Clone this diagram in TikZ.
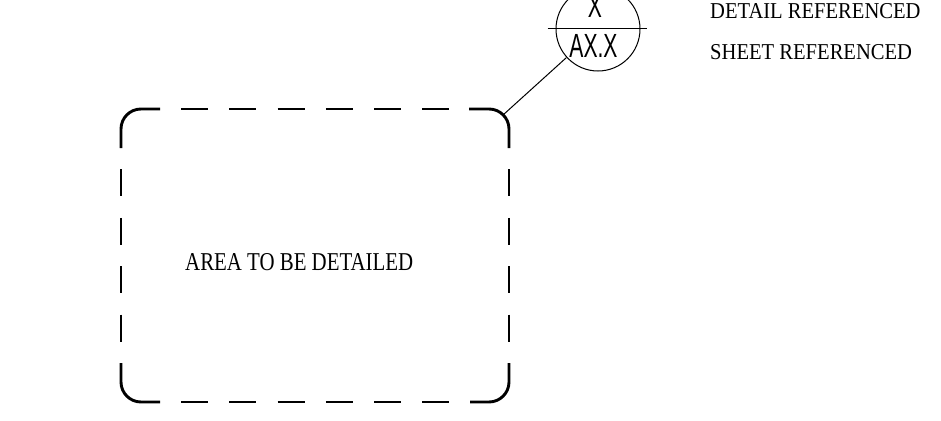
\documentclass[tikz,border=0pt]{standalone}
\usepackage{fontspec}
\usepackage{graphicx}
\setmainfont{Liberation Serif}
\newfontfamily\narrowsans{Liberation Sans}
\tikzset{
  heavy/.style={line width=2.9pt, line cap=butt},
  heavydash/.style={heavy, dash pattern=on 27pt off 21.2pt, dash phase=27pt},
  thin/.style={line width=1pt},
  serif/.style={anchor=base west, inner sep=0pt, font=\fontsize{22.7}{24}\selectfont},
  tag/.style={anchor=base, inner sep=0pt, font=\narrowsans\fontsize{33.5}{36}\selectfont},
}
\begin{document}
\begin{tikzpicture}[x=1pt, y=-1pt]
\useasboundingbox (0,0) rectangle (941,420);
% corners of the detailed area
\draw[heavy, rounded corners=20pt] (121,148) -- (121,109) -- (160,109);
\draw[heavy, rounded corners=20pt] (469,109) -- (509,109) -- (509,148);
\draw[heavy, rounded corners=20pt] (509,363) -- (509,402) -- (470,402);
\draw[heavy, rounded corners=20pt] (160,402) -- (121,402) -- (121,363);
% dashed sides
\draw[heavydash] (160,109) -- (470,109);
\draw[heavydash] (160,402) -- (470,402);
\draw[heavydash, dash pattern=on 27pt off 21.4pt] (121,148) -- (121,363);
\draw[heavydash, dash pattern=on 27pt off 21.4pt] (509,148) -- (509,363);
\coordinate (rc) at (503,115);
% detail callout
\node[circle, draw, thin, minimum size=84pt, inner sep=0pt] (c) at (598,29) {};
\draw[thin] ([xshift=-8pt]c.west) -- ([xshift=6pt]c.east);
\node[tag] (top) at (595,18) {\scalebox{0.63}[1]{X}};
\node[tag] (bot) at (593.5,57) {\scalebox{0.63}[1]{AX.X}};
\draw[thin] (c) -- (rc);
% labels
\node[serif] (d) at (710,19) {\scalebox{0.906}[1]{DETAIL REFERENCED}};
\node[serif] (s) at (710,59.5) {\scalebox{0.907}[1]{SHEET REFERENCED}};
\node[serif, font=\fontsize{25.7}{27}\selectfont] (a) at (185,270) {\scalebox{0.812}[1]{AREA TO BE DETAILED}};
\end{tikzpicture}
\end{document}
